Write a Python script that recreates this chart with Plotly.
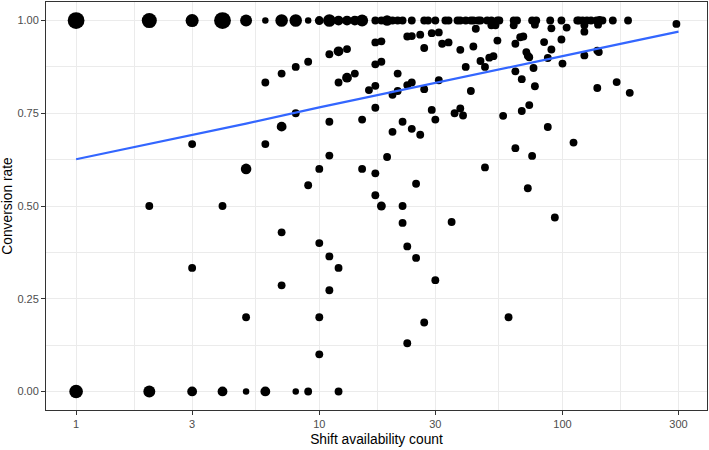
import plotly.graph_objects as go
import numpy as np

# ---- data: shift availability count (x), conversion rate (y), point weight (size) ----
top_x = [1, 2, 3, 4, 5, 6, 7, 8, 9, 10, 11, 12, 13, 14, 15, 17, 18, 19, 20, 21, 22, 24,
         27, 28, 30, 33, 34, 37, 38, 40, 42, 43, 45, 46, 49, 51, 54, 55, 63, 65, 75, 78,
         89, 99, 115, 117, 121, 126, 131, 138, 142, 146, 161, 186]
top_w = [17, 13, 9, 17, 7, 1, 8, 8, 1, 3, 8, 4, 4, 4, 7, 2, 2, 5, 2, 2, 2, 2,
         2, 2, 2, 2, 2, 2, 2, 2, 2, 2, 2, 2, 2, 2, 2, 2, 2, 2, 2, 2,
         2, 2, 2, 2, 2, 2, 2, 2, 3, 2, 2, 2]

near_x = [44, 51, 53, 63, 77, 90, 104, 123, 123, 140, 294]
near_y = [0.978, 0.987, 0.987, 0.987, 0.989, 0.979, 0.981, 0.987, 0.970, 0.989, 0.991]

mid_x = [12, 11, 13, 9, 8, 7, 6, 12, 13, 14, 16, 8, 7, 11, 15, 3, 6, 11, 5, 10, 15, 9,
         2, 4, 7, 10, 11, 12, 3, 7, 11, 5, 10, 10,
         19, 17, 25, 17, 18, 22, 22, 23, 25, 27, 23,
         64, 111, 75, 48, 72, 35, 93, 30, 60, 87, 22, 30, 20, 24, 26,
         17, 18, 23, 24, 26, 29, 31, 27, 32, 34, 38, 43, 46, 40, 17, 18, 21,
         17, 23, 24, 27, 20, 21, 31, 42, 17, 29, 36, 38, 39,
         54, 48, 50, 52, 67, 69, 64, 71, 72, 73, 84, 90, 87, 99, 100, 123,
         76, 64, 68, 77, 73, 68, 57, 139, 141, 139, 167, 189]
mid_y = [0.917, 0.909, 0.923, 0.889, 0.875, 0.857, 0.833, 0.833, 0.846, 0.857, 0.8125,
         0.75, 0.714, 0.727, 0.733, 0.667, 0.667, 0.636, 0.6, 0.6, 0.6, 0.556,
         0.5, 0.5, 0.429, 0.4, 0.364, 0.333, 0.333, 0.286, 0.273, 0.2, 0.2, 0.1,
         0.632, 0.588, 0.56, 0.529, 0.5, 0.5, 0.4545, 0.391, 0.36, 0.186, 0.130,
         0.656, 0.671, 0.635, 0.604, 0.548, 0.457, 0.469, 0.3, 0.2, 0.713, 0.727, 0.733,
         0.7, 0.708, 0.692,
         0.941, 0.944, 0.957, 0.958, 0.962, 0.966, 0.968, 0.926, 0.9375, 0.941, 0.921,
         0.930, 0.891, 0.875, 0.882, 0.889, 0.857,
         0.824, 0.826, 0.833, 0.815, 0.8, 0.81, 0.839, 0.81, 0.765, 0.759, 0.75, 0.763, 0.744,
         0.946, 0.875, 0.9, 0.904, 0.955, 0.957, 0.9375, 0.915, 0.905, 0.901, 0.942, 0.922,
         0.899, 0.949, 0.884, 0.906,
         0.872, 0.863, 0.842, 0.823, 0.772, 0.756, 0.743, 0.919, 0.915, 0.818, 0.834, 0.805]
mid_w_big = {0: 4, 8: 4, 12: 4, 18: 5, 38: 3}

zero_x = [1, 2, 3, 4, 5, 6, 8, 9, 12]
zero_w = [10, 7, 4, 4, 1, 4, 1, 2, 2]

# fitted trend line
fit_x = [1, 2, 3, 5, 10, 20, 30, 50, 100, 200, 300]
fit_y = [0.626, 0.667, 0.690, 0.722, 0.766, 0.807, 0.832, 0.862, 0.904, 0.946, 0.970]

x_ticks = [1, 3, 10, 30, 100, 300]
y_ticks = [0.0, 0.25, 0.5, 0.75, 1.0]

# ---- assemble ----
xs = list(top_x) + list(near_x) + list(mid_x) + list(zero_x)
ys = [1.0] * len(top_x) + list(near_y) + list(mid_y) + [0.0] * len(zero_x)
mid_w = [mid_w_big.get(i, 2) for i in range(len(mid_x))]
ws = list(top_w) + [2] * len(near_x) + mid_w + list(zero_w)
sizes = [3.2 + 3.3 * np.sqrt(w) for w in ws]

fig = go.Figure()
fig.add_trace(go.Scatter(x=xs, y=ys, mode="markers",
                         marker=dict(color="black", size=sizes, opacity=1, line=dict(width=0)),
                         opacity=1, showlegend=False, hoverinfo="x+y"))
fig.add_trace(go.Scatter(x=fit_x, y=fit_y, mode="lines",
                         line=dict(color="#3366FF", width=2.2), showlegend=False))

font = "Liberation Sans, Arial, sans-serif"
grid = "#EBEBEB"
xr = [np.log10(1) - 0.1237, np.log10(300) + 0.117]

fig.update_layout(
    width=709, height=450,
    margin=dict(l=46, r=2, t=2, b=40),
    plot_bgcolor="white", paper_bgcolor="white",
    font=dict(family=font, color="black"),
    xaxis=dict(type="log", range=xr, tickmode="array", tickvals=x_ticks,
               ticktext=[str(v) for v in x_ticks],
               showgrid=True, gridcolor=grid, gridwidth=1,
               minor=dict(tickmode="array", tickvals=[1.732, 5.477, 17.32, 54.77, 173.2],
                          showgrid=True, gridcolor=grid, gridwidth=0.6, ticks=""),
               showline=True, mirror=True, linecolor="#333333", linewidth=1,
               ticks="outside", ticklen=4, tickcolor="#333333", tickwidth=1,
               tickfont=dict(size=11, color="#4D4D4D", family=font),
               zeroline=False,
               title=dict(text="Shift availability count", font=dict(size=13.8, family=font),
                          standoff=5)),
    yaxis=dict(range=[-0.05, 1.05], tickmode="array", tickvals=y_ticks,
               ticktext=["%.2f" % v for v in y_ticks],
               showgrid=True, gridcolor=grid, gridwidth=1,
               minor=dict(tickmode="array", tickvals=[0.125, 0.375, 0.625, 0.875],
                          showgrid=True, gridcolor=grid, gridwidth=0.6, ticks=""),
               showline=True, mirror=True, linecolor="#333333", linewidth=1,
               ticks="outside", ticklen=4, tickcolor="#333333", tickwidth=1,
               tickfont=dict(size=11, color="#4D4D4D", family=font),
               zeroline=False,
               title=dict(text="Conversion rate", font=dict(size=13.8, family=font),
                          standoff=4)),
)

fig.write_html("out.html")
